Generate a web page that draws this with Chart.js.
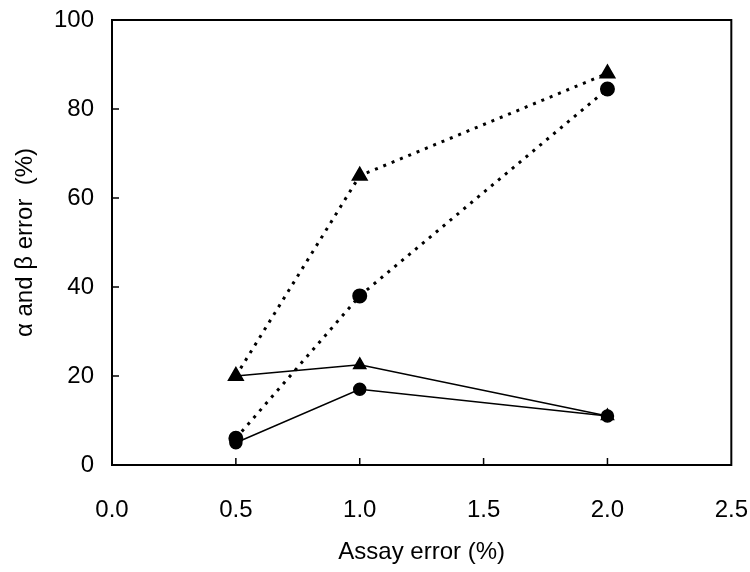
<!DOCTYPE html>
<html>
<head>
<meta charset="utf-8">
<script src="https://cdn.jsdelivr.net/npm/chart.js@4/dist/chart.umd.min.js"></script>
<style>
  html, body { margin: 0; padding: 0; background: #fff; }
  #wrap { width: 750px; height: 572px; }
</style>
</head>
<body>
<div id="wrap"><canvas id="chart" width="750" height="572"></canvas></div>
<script>
// valores
const assayError = [0.5, 1.0, 2.0];
const triDotted = [20, 65, 88];
const circDotted = [6, 38, 84.5];
const triSolid = [20, 22.5, 11];
const circSolid = [5, 17, 11];

const xTicks = [0.5, 1.0, 1.5, 2.0];
const yTicks = [20, 40, 60, 80];

const pts = arr => assayError.map((x, i) => ({ x: x, y: arr[i] }));

const font = 'Liberation Sans, Arial, Helvetica, sans-serif';

// moldura e marcas de escala para dentro
const framePlugin = {
    id: 'frame',
    afterDraw(chart) {
        const { ctx, chartArea: a, scales } = chart;
        ctx.save();
        ctx.strokeStyle = '#000';
        ctx.lineWidth = 2;
        ctx.strokeRect(a.left, a.top, a.right - a.left, a.bottom - a.top);
        ctx.lineWidth = 1.5;
        ctx.beginPath();
        xTicks.forEach(v => {
            const px = scales.x.getPixelForValue(v);
            ctx.moveTo(px, a.bottom);
            ctx.lineTo(px, a.bottom - 7);
        });
        yTicks.forEach(v => {
            const py = scales.y.getPixelForValue(v);
            ctx.moveTo(a.left, py);
            ctx.lineTo(a.left + 7, py);
        });
        ctx.stroke();
        ctx.restore();
    }
};

new Chart(document.getElementById('chart').getContext('2d'), {
    type: 'line',
    data: {
        datasets: [
            {
                label: 'triangle dotted',
                data: pts(triDotted),
                borderColor: '#000',
                backgroundColor: '#000',
                borderWidth: 3,
                borderDash: [3, 6],
                pointStyle: 'triangle',
                pointRadius: 7
            },
            {
                label: 'circle dotted',
                data: pts(circDotted),
                borderColor: '#000',
                backgroundColor: '#000',
                borderWidth: 3,
                borderDash: [3, 6],
                pointStyle: 'circle',
                pointRadius: 6
            },
            {
                label: 'triangle solid',
                data: pts(triSolid),
                borderColor: '#000',
                backgroundColor: '#000',
                borderWidth: 1.5,
                pointStyle: 'triangle',
                pointRadius: 7
            },
            {
                label: 'circle solid',
                data: pts(circSolid),
                borderColor: '#000',
                backgroundColor: '#000',
                borderWidth: 1.5,
                pointStyle: 'circle',
                pointRadius: 6
            }
        ]
    },
    options: {
        responsive: false,
        animation: false,
        layout: { padding: { top: 20, left: 0, right: 0, bottom: 0 } },
        plugins: {
            legend: { display: false },
            tooltip: { enabled: false }
        },
        scales: {
            x: {
                type: 'linear',
                min: 0,
                max: 2.5,
                // marcas invisíveis só para afastar os rótulos do eixo
                grid: { display: false, drawTicks: true, tickLength: 29 },
                border: { display: false },
                ticks: {
                    stepSize: 0.5,
                    padding: 2,
                    color: '#000',
                    font: { family: font, size: 24 },
                    callback: v => v.toFixed(1)
                },
                title: {
                    display: true,
                    text: 'Assay error (%)',
                    color: '#000',
                    font: { family: font, size: 24 },
                    padding: { top: 0, bottom: 5 }
                },
                afterFit: s => { s.height = 107; }
            },
            y: {
                min: 0,
                max: 100,
                grid: { display: false, drawTicks: true, tickLength: 16 },
                border: { display: false },
                ticks: {
                    stepSize: 20,
                    padding: 2,
                    color: '#000',
                    font: { family: font, size: 24 }
                },
                title: {
                    display: true,
                    text: 'α and β error  (%)',
                    color: '#000',
                    font: { family: font, size: 24 },
                    padding: { top: 11, bottom: 0 }
                },
                afterFit: s => { s.width = 112; }
            }
        }
    },
    plugins: [framePlugin]
});
</script>
</body>
</html>
